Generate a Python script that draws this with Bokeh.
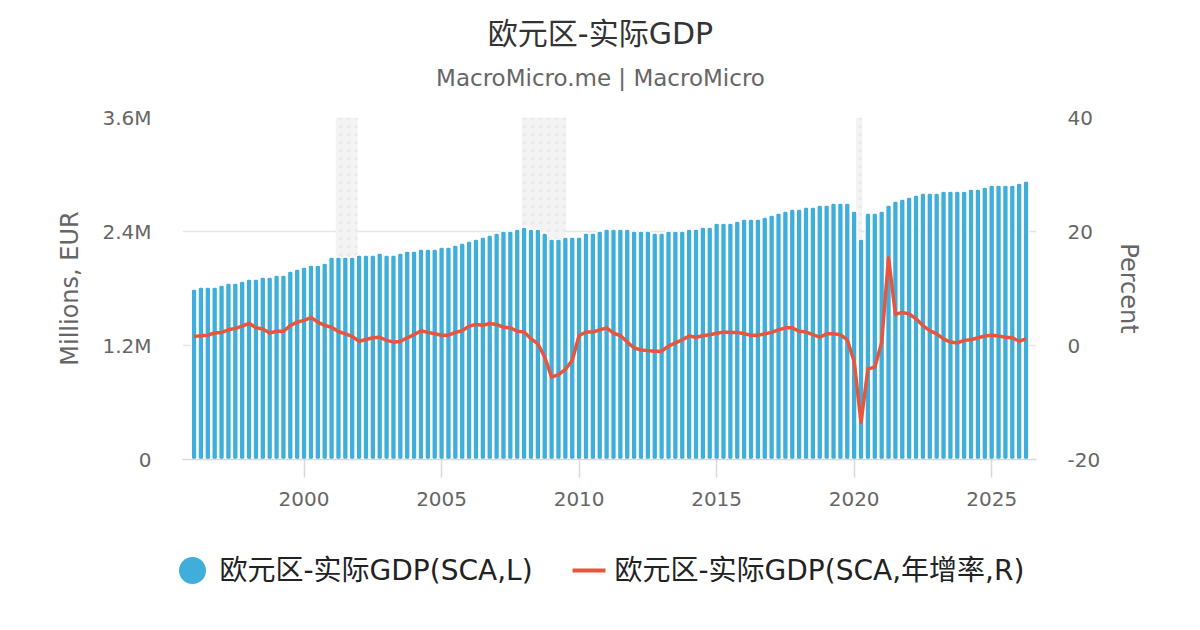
from bokeh.plotting import figure
from bokeh.models import Range1d, LinearAxis, FixedTicker, BoxAnnotation, ColumnDataSource
from bokeh.layouts import column, row
from bokeh.embed import file_html
from bokeh.resources import INLINE
from bokeh.core.properties import value

# ---------------- data ----------------
TITLE = "欧元区-实际GDP"
SUBTITLE = "MacroMicro.me | MacroMicro"
SERIES_BAR = "欧元区-实际GDP(SCA,L)"
SERIES_LINE = "欧元区-实际GDP(SCA,年增率,R)"
LEFT_LABEL = "Millions, EUR"
RIGHT_LABEL = "Percent"

first_year = 1996
n_quarters = 122
quarters = [f"{first_year + i // 4}Q{i % 4 + 1}" for i in range(n_quarters)]

# real GDP, EUR millions (left axis)
gdp = [
    1794000, 1815000, 1815000, 1815000, 1836000, 1857000, 1857000, 1878000, 1899000, 1899000,
    1920000, 1920000, 1941000, 1941000, 1983000, 2004000, 2025000, 2046000, 2046000, 2067000,
    2131000, 2131000, 2131000, 2131000, 2152000, 2152000, 2152000, 2173000, 2152000, 2152000,
    2173000, 2194000, 2194000, 2215000, 2215000, 2215000, 2236000, 2236000, 2257000, 2278000,
    2299000, 2320000, 2341000, 2362000, 2383000, 2404000, 2404000, 2425000, 2446000, 2425000,
    2425000, 2383000, 2320000, 2320000, 2341000, 2341000, 2341000, 2383000, 2383000, 2404000,
    2425000, 2425000, 2425000, 2425000, 2404000, 2404000, 2404000, 2383000, 2383000, 2404000,
    2404000, 2404000, 2425000, 2425000, 2446000, 2446000, 2488000, 2488000, 2488000, 2509000,
    2531000, 2531000, 2531000, 2552000, 2573000, 2594000, 2615000, 2636000, 2636000, 2657000,
    2657000, 2678000, 2678000, 2699000, 2699000, 2699000, 2615000, 2320000, 2594000, 2594000,
    2615000, 2678000, 2720000, 2741000, 2762000, 2783000, 2804000, 2804000, 2804000, 2825000,
    2825000, 2825000, 2825000, 2846000, 2846000, 2867000, 2888000, 2888000, 2888000, 2888000,
    2909000, 2931000,
]

# year-over-year growth, percent (right axis)
yoy = [
    1.6, 1.7, 1.8, 2.2, 2.3, 2.75, 3.0, 3.4, 3.9, 3.1,
    2.9, 2.2, 2.5, 2.5, 3.5, 4.1, 4.4, 4.9, 4.1, 3.5,
    3.2, 2.45, 2.05, 1.6, 0.75, 1.05, 1.35, 1.45, 0.9, 0.6,
    0.7, 1.35, 1.9, 2.6, 2.3, 2.05, 1.8, 1.8, 2.3, 2.6,
    3.4, 3.7, 3.55, 3.85, 3.7, 3.2, 3.1, 2.5, 2.35, 1.2,
    0.3, -2.05, -5.55, -5.1, -4.2, -2.6, 1.75, 2.35, 2.35, 2.75,
    3.1, 2.15, 1.75, 0.6, -0.4, -0.8, -0.9, -1.0, -1.0, -0.1,
    0.45, 1.0, 1.65, 1.45, 1.7, 1.9, 2.15, 2.35, 2.3, 2.3,
    2.05, 1.8, 1.8, 2.05, 2.3, 2.75, 3.1, 3.1, 2.5, 2.35,
    1.9, 1.45, 2.05, 2.05, 1.9, 1.0, -2.8, -13.5, -4.1, -3.8,
    0.5, 15.4, 5.45, 5.8, 5.55, 4.7, 3.5, 2.6, 2.05, 1.15,
    0.6, 0.45, 0.9, 1.0, 1.35, 1.65, 1.8, 1.65, 1.45, 1.35,
    0.75, 1.15,
]

recession_start = [2001.15, 2007.92, 2020.07]
recession_end = [2001.95, 2009.52, 2020.28]

x_ticks = [2000, 2005, 2010, 2015, 2020, 2025]
left_ticks = [0, 1200000, 2400000, 3600000]
left_tick_labels = ["0", "1.2M", "2.4M", "3.6M"]
right_ticks = [-20, 0, 20, 40]
right_tick_labels = ["-20", "0", "20", "40"]

assert len(gdp) == n_quarters and len(yoy) == n_quarters

# ---------------- style / layout ----------------
BLUE = "#40AEDA"
RED = "#E8553D"
FONT = "DejaVu Sans, Noto Sans CJK SC"
W = 1184
FRAME_L = 182
FRAME_R = 1036

xpos = [int(q[:4]) + (int(q[-1]) - 1) * 0.25 for q in quarters]
src = ColumnDataSource(dict(x=xpos, gdp=gdp, yoy=yoy, q=quarters))


def strip(height):
    f = figure(width=W, height=height, x_range=Range1d(0, W), y_range=Range1d(0, height),
               x_axis_type=None, y_axis_type=None, output_backend="svg",
               toolbar_location=None, min_border=0, outline_line_color=None)
    f.grid.visible = False
    return f


# ---------------- title strip ----------------
TOP_H = 98
pt = strip(TOP_H)
pt.text(x=[600], y=[TOP_H - 33], text=[TITLE], text_font=value(FONT), text_font_size="30px",
        text_color="#333333", text_align="center", text_baseline="middle")
pt.text(x=[600], y=[TOP_H - 77], text=[SUBTITLE], text_font=value(FONT), text_font_size="23px",
        text_color="#666666", text_align="center", text_baseline="middle")

# ---------------- main chart ----------------
p = figure(width=W, height=445, x_range=Range1d(1995.58, 2026.63),
           y_range=Range1d(left_ticks[0], left_ticks[-1]),
           output_backend="svg", toolbar_location=None,
           min_border_left=FRAME_L, min_border_right=W - FRAME_R,
           min_border_top=19, min_border_bottom=84,
           outline_line_color=None)
p.extra_y_ranges = {"pct": Range1d(right_ticks[0], right_ticks[-1])}

for s, e in zip(recession_start, recession_end):
    p.add_layout(BoxAnnotation(left=s, right=e, fill_color="#f4f4f4", fill_alpha=1.0,
                               line_color=None, level="underlay",
                               hatch_pattern="dot", hatch_color="#ebebeb",
                               hatch_scale=8, hatch_weight=0.6))

p.vbar(x="x", top="gdp", bottom=0, width=0.2, source=src, fill_color=BLUE,
       line_color="white", line_width=1.2, border_radius=2)
p.line(x="x", y="yoy", source=src, y_range_name="pct", line_color=RED,
       line_width=3.5, line_join="round")

# x axis
p.xaxis.ticker = FixedTicker(ticks=x_ticks)
p.xaxis.axis_line_color = "#d9d9d9"
p.xaxis.axis_line_width = 1.5
p.xaxis.major_tick_line_color = "#d9d9d9"
p.xaxis.major_tick_line_width = 1.5
p.xaxis.major_tick_out = 18
p.xaxis.major_tick_in = 0
p.xaxis.minor_tick_line_color = None
p.xaxis.major_label_text_font = FONT
p.xaxis.major_label_text_font_size = "20px"
p.xaxis.major_label_text_color = "#666666"
p.xaxis.major_label_standoff = 14

# left axis
lt = FixedTicker(ticks=left_ticks)
p.yaxis.ticker = lt
p.yaxis.major_label_overrides = {t: l for t, l in zip(left_ticks, left_tick_labels)}
p.yaxis.axis_line_color = None
p.yaxis.major_tick_line_color = None
p.yaxis.major_tick_out = 0
p.yaxis.minor_tick_line_color = None
p.yaxis.major_label_text_font = FONT
p.yaxis.major_label_text_font_size = "20px"
p.yaxis.major_label_text_color = "#666666"
p.yaxis.major_label_standoff = 31
p.yaxis.axis_label = LEFT_LABEL
p.yaxis.axis_label_text_font = FONT
p.yaxis.axis_label_text_font_size = "24px"
p.yaxis.axis_label_text_font_style = "normal"
p.yaxis.axis_label_text_color = "#666666"
p.yaxis.axis_label_standoff = 15

# right axis
ra = LinearAxis(y_range_name="pct", ticker=FixedTicker(ticks=right_ticks),
                axis_label=RIGHT_LABEL)
ra.major_label_overrides = {t: l for t, l in zip(right_ticks, right_tick_labels)}
ra.axis_line_color = None
ra.major_tick_line_color = None
ra.major_tick_out = 0
ra.minor_tick_line_color = None
ra.major_label_text_font = FONT
ra.major_label_text_font_size = "20px"
ra.major_label_text_color = "#666666"
ra.major_label_standoff = 31
ra.axis_label_text_font = FONT
ra.axis_label_text_font_size = "24px"
ra.axis_label_text_font_style = "normal"
ra.axis_label_text_color = "#666666"
ra.axis_label_standoff = 12
p.add_layout(ra, "right")

p.xgrid.visible = False
p.ygrid.ticker = lt
p.ygrid.grid_line_color = "#e6e6e6"
p.ygrid.grid_line_width = 1.5

# ---------------- legend strip ----------------
LEG_H = 70
pl = strip(LEG_H)
leg_y = LEG_H - 27
pl.scatter(x=[192], y=[leg_y], size=27, marker="circle", fill_color=BLUE, line_color=None)
pl.text(x=[219], y=[leg_y], text=[SERIES_BAR], text_font=value(FONT), text_font_size="28px",
        text_color="#222222", text_align="left", text_baseline="middle")
pl.line(x=[572, 605], y=[leg_y, leg_y], line_color=RED, line_width=4)
pl.text(x=[614], y=[leg_y], text=[SERIES_LINE], text_font=value(FONT), text_font_size="28px",
        text_color="#222222", text_align="left", text_baseline="middle")

layout = column(row(pt), row(p), row(pl), spacing=0)
open("out.html", "w").write(file_html(layout, INLINE))
